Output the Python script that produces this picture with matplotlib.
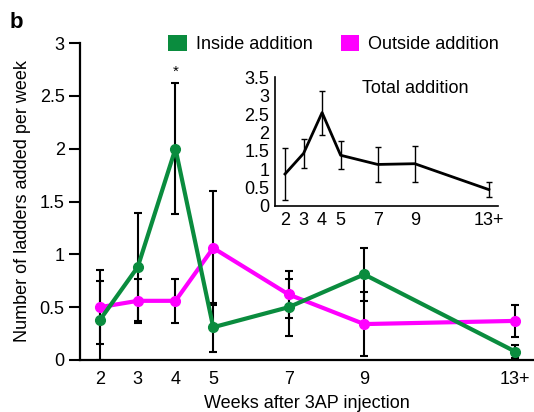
import matplotlib
matplotlib.use("Agg")
import matplotlib.pyplot as plt
from matplotlib.patches import Patch
import numpy as np

plt.rcParams['font.family'] = ['Liberation Sans', 'DejaVu Sans']

weeks = [2, 3, 4, 5, 7, 9, 13]
tick_labels = ['2', '3', '4', '5', '7', '9', '13+']

inside = [0.38, 0.88, 2.00, 0.31, 0.50, 0.81, 0.08]
inside_lo = [0.38, 0.51, 0.62, 0.23, 0.27, 0.25, 0.06]
inside_hi = [0.47, 0.51, 0.62, 0.23, 0.27, 0.25, 0.06]

outside = [0.50, 0.56, 0.56, 1.06, 0.62, 0.34, 0.37]
outside_lo = [0.35, 0.21, 0.21, 0.54, 0.22, 0.30, 0.155]
outside_hi = [0.25, 0.21, 0.21, 0.54, 0.22, 0.30, 0.155]

total = [0.87, 1.43, 2.54, 1.38, 1.13, 1.15, 0.445]
total_err = [0.72, 0.39, 0.60, 0.38, 0.48, 0.49, 0.20]

green = '#0A8C3E'
magenta = '#FF00FF'

fig = plt.figure(figsize=(5.34, 4.12), dpi=100)
ax = fig.add_axes([80/534, 1-360/412, 1-80/534, (360-43)/412])

ax.errorbar(weeks, inside, yerr=[inside_lo, inside_hi], fmt='none', ecolor='black',
            elinewidth=1.5, capsize=3, capthick=1.5, zorder=2)
ax.errorbar(weeks, outside, yerr=[outside_lo, outside_hi], fmt='none', ecolor='black',
            elinewidth=1.5, capsize=3, capthick=1.5, zorder=2)
ax.plot(weeks, outside, color=magenta, lw=3, marker='o', ms=7, zorder=3)
ax.plot(weeks, inside, color=green, lw=3, marker='o', ms=7, zorder=4)

ax.set_xlim(1.47, 13.5)
ax.set_ylim(0, 3)
ax.set_yticks([0, 0.5, 1, 1.5, 2, 2.5, 3])
ax.set_yticklabels(['0', '0.5', '1', '1.5', '2', '2.5', '3'])
ax.set_xticks(weeks)
ax.set_xticklabels(tick_labels)
for s in ['top', 'right']:
    ax.spines[s].set_visible(False)
for s in ['left', 'bottom']:
    ax.spines[s].set_linewidth(1.6)
ax.tick_params(axis='y', length=8, width=1.5, pad=3, labelsize=13)
ax.tick_params(axis='x', length=0, pad=8, labelsize=13)
ax.set_xlabel('Weeks after 3AP injection', fontsize=13, labelpad=5)
ax.set_ylabel('Number of ladders added per week', fontsize=13, labelpad=6)
ax.text(4, 2.66, '*', ha='center', va='bottom', fontsize=11)

handles = [Patch(facecolor=green, edgecolor='none', label='Inside addition'),
           Patch(facecolor=magenta, edgecolor='none', label='Outside addition')]
fig.legend(handles=handles, loc='center', bbox_to_anchor=(0.625, 1-44/412), ncol=2,
           frameon=False, fontsize=13, handlelength=1.0, handleheight=1.0,
           handletextpad=0.5, columnspacing=1.6, borderpad=0, borderaxespad=0)

fig.text(10/534, 1-22/412, 'b', fontsize=16, fontweight='bold', ha='left', va='center')

ins = fig.add_axes([275/534, 1-206/412, (498-275)/534, (206-77.3)/412])
ins.errorbar(weeks, total, yerr=total_err, fmt='none', ecolor='black',
             elinewidth=1.0, capsize=2.5, capthick=1.0, zorder=2)
ins.plot(weeks, total, color='black', lw=2, zorder=3)
ins.set_xlim(1.46, 13.49)
ins.set_ylim(0, 3.5)
ins.set_yticks([0, 0.5, 1, 1.5, 2, 2.5, 3, 3.5])
ins.set_yticklabels(['0', '0.5', '1', '1.5', '2', '2.5', '3', '3.5'])
ins.set_xticks(weeks)
ins.set_xticklabels(tick_labels)
for s in ['top', 'right']:
    ins.spines[s].set_visible(False)
for s in ['left', 'bottom']:
    ins.spines[s].set_linewidth(1.2)
ins.tick_params(axis='y', length=0, pad=4, labelsize=13)
ins.tick_params(axis='x', length=0, pad=4, labelsize=13)
ins.patch.set_alpha(0)
ins.text(0.63, 0.91, 'Total addition', transform=ins.transAxes, ha='center', va='center',
         fontsize=13)

fig.savefig('out.png', dpi=100)
